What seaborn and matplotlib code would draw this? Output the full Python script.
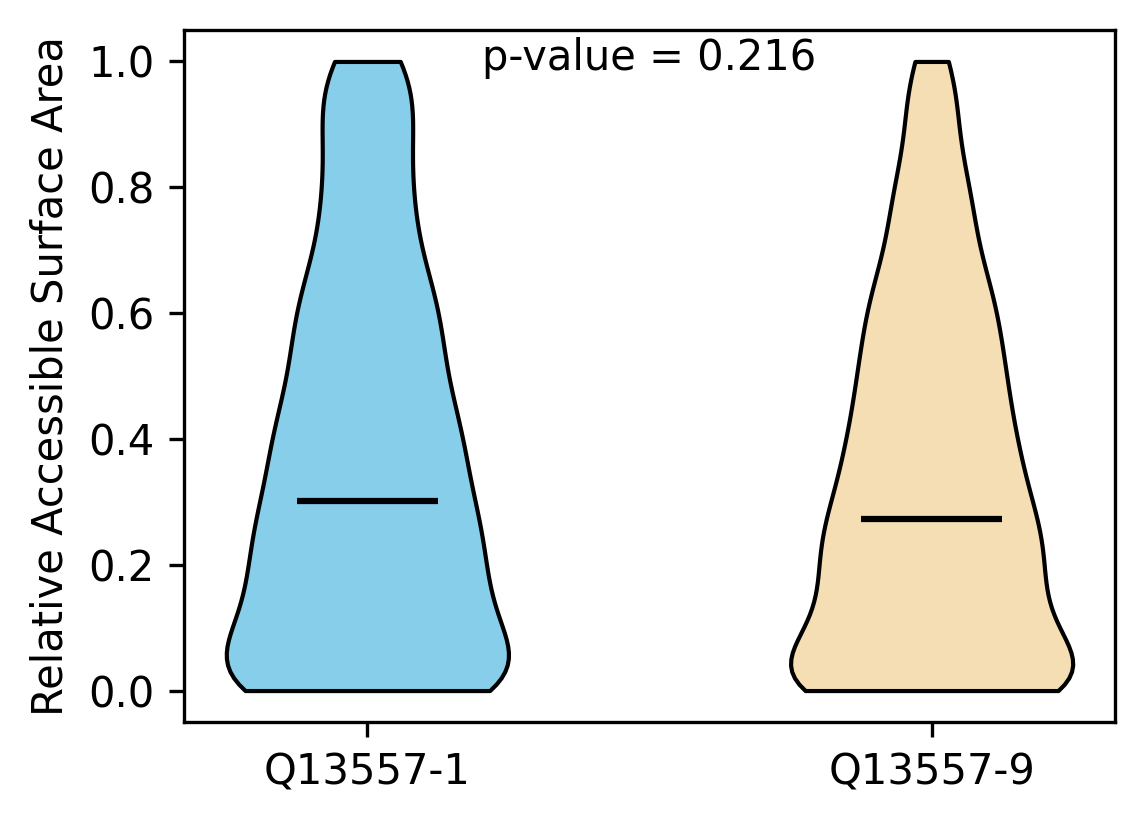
import matplotlib
matplotlib.use("Agg")
import matplotlib.pyplot as plt
import seaborn as sns
import numpy as np
import pandas as pd

# RSA values per isoform (estimated from the reference violins)
rsa_iso1 = [0.0] * 11 + [
    0.004, 0.011, 0.018, 0.025, 0.032, 0.039, 0.046,
    0.054, 0.063, 0.071, 0.079, 0.088, 0.096,
    0.104, 0.111, 0.118, 0.125, 0.132, 0.139, 0.146,
    0.154, 0.163, 0.171, 0.179, 0.188, 0.196,
    0.204, 0.213, 0.221, 0.229, 0.238, 0.246,
    0.254, 0.261, 0.268, 0.275, 0.282, 0.289, 0.296,
    0.306, 0.319, 0.331, 0.344,
    0.354, 0.363, 0.371, 0.379, 0.388, 0.396,
    0.405, 0.415, 0.425, 0.435, 0.445,
    0.456, 0.469, 0.481, 0.494,
    0.506, 0.519, 0.531, 0.544,
    0.556, 0.569, 0.581, 0.594,
    0.606, 0.619, 0.631, 0.644,
    0.658, 0.675, 0.692,
    0.712, 0.738,
    0.758, 0.775, 0.792,
    0.812, 0.838,
    0.862, 0.888,
    0.908, 0.925, 0.942,
    0.962, 0.988,
] + [1.0] * 2

rsa_iso9 = [0.0] * 13 + [
    0.004, 0.011, 0.018, 0.025, 0.032, 0.039, 0.046,
    0.054, 0.061, 0.068, 0.075, 0.082, 0.089, 0.096,
    0.104, 0.113, 0.121, 0.129, 0.138, 0.146,
    0.154, 0.161, 0.168, 0.175, 0.182, 0.189, 0.196,
    0.204, 0.213, 0.221, 0.229, 0.238, 0.246,
    0.251, 0.258, 0.264, 0.270, 0.276, 0.283, 0.291,
    0.305, 0.315, 0.325, 0.335, 0.345,
    0.354, 0.363, 0.371, 0.379, 0.388, 0.396,
    0.406, 0.419, 0.431, 0.444,
    0.455, 0.465, 0.475, 0.485, 0.495,
    0.506, 0.519, 0.531, 0.544,
    0.556, 0.569, 0.581, 0.594,
    0.606, 0.619, 0.631, 0.644,
    0.658, 0.675, 0.692,
    0.712, 0.738,
    0.758, 0.775, 0.792,
    0.812, 0.838,
    0.875,
    0.912, 0.938,
    0.975,
] + [1.0] * 1

isoforms = ["Q13557-1", "Q13557-9"]
colors = ["skyblue", "wheat"]
p_value = 0.216

df = pd.DataFrame({
    "isoform": [isoforms[0]] * len(rsa_iso1) + [isoforms[1]] * len(rsa_iso9),
    "rsa": rsa_iso1 + rsa_iso9,
})

fig, ax = plt.subplots(figsize=(1144 / 300, 824 / 300), dpi=300)
fig.subplots_adjust(left=184 / 1144, right=1115 / 1144,
                    top=1 - 30 / 824, bottom=1 - 722 / 824)

sns.violinplot(data=df, x="isoform", y="rsa", hue="isoform",
               order=isoforms, palette=colors, legend=False,
               cut=0, inner=None, density_norm="width", width=0.5,
               bw_adjust=0.6, linecolor="black", linewidth=1,
               saturation=1, ax=ax)

# median lines like matplotlib's showmedians
for i, vals in enumerate([rsa_iso1, rsa_iso9]):
    ax.hlines(np.median(vals), i - 0.125, i + 0.125, color="black", lw=1.5)

ax.text(0.5, 0.99, f"p-value = {p_value}", transform=ax.transAxes,
        ha="center", va="top", fontsize=10)

ax.set_xlim(-0.325, 1.325)
ax.set_ylim(-0.05, 1.05)
ax.set_yticks([0.0, 0.2, 0.4, 0.6, 0.8, 1.0])
ax.set_xlabel("")
ax.set_ylabel("Relative Accessible Surface Area", fontsize=10)
ax.tick_params(labelsize=10)

fig.savefig("out.png", dpi=300)
